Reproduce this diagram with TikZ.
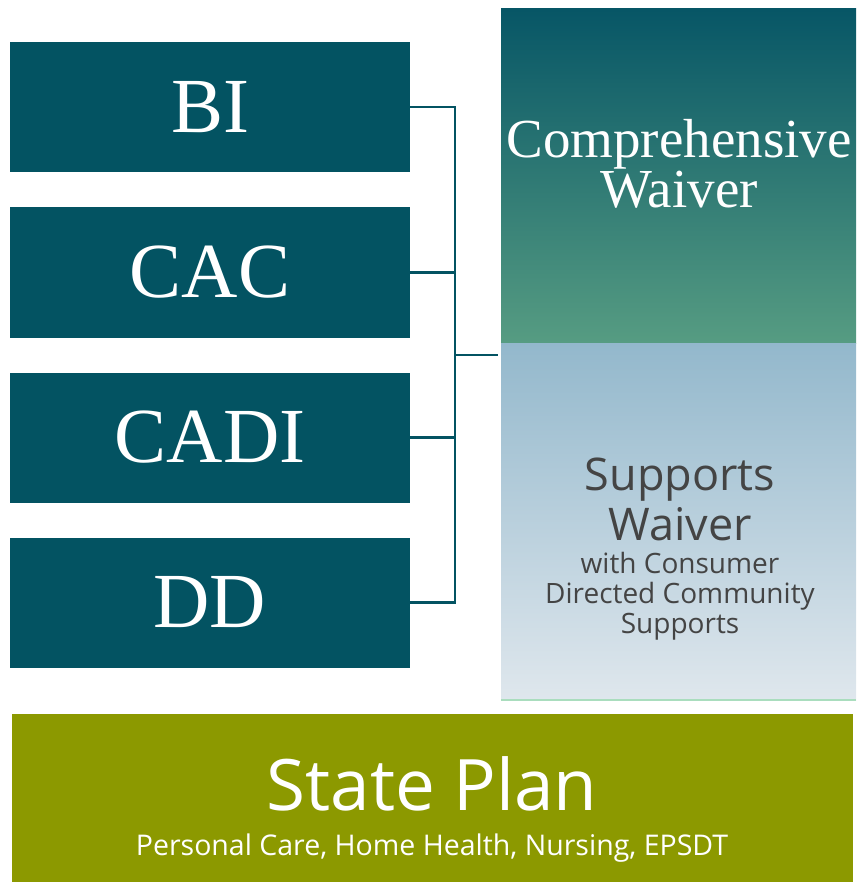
\documentclass[tikz,border=0pt]{standalone}
\usepackage{fontspec}
\setmainfont{Liberation Serif}
\newfontfamily\thinsans{Open Sans}
\definecolor{teal}{RGB}{3,83,98}
\definecolor{comptop}{RGB}{7,86,102}
\definecolor{compbot}{RGB}{86,156,130}
\definecolor{suptop}{RGB}{147,184,204}
\definecolor{supbot}{RGB}{223,231,237}
\definecolor{olive}{RGB}{140,153,0}
\definecolor{suptext}{RGB}{68,68,68}
\definecolor{edgegreen}{RGB}{170,221,190}
\tikzset{
  progbox/.style={fill=teal, draw=none, minimum width=400pt, minimum height=130pt, inner sep=0pt,
    text=white, font=\fontsize{78}{80}\selectfont},
  conn/.style={draw=teal, line width=2.6pt},
  lbl/.style={inner sep=0pt, anchor=base, align=center}
}
\begin{document}
\begin{tikzpicture}[x=1pt,y=-1pt]
\useasboundingbox (0,0) rectangle (856,882);
\fill[white] (0,0) rectangle (856,882);
% left program boxes
\node[progbox] (bi)   at (210,107) {BI};
\node[progbox] (cac)  at (210,272.5) {CAC};
\node[progbox] (cadi) at (210,437.5) {CADI};
\node[progbox] (dd)   at (210,602.5) {DD};
% waiver boxes
\node[minimum width=355pt, minimum height=334pt, inner sep=0pt, top color=comptop, bottom color=compbot, draw=none] (comp) at (678.5,176) {};
\node[minimum width=355pt, minimum height=357pt, inner sep=0pt, top color=suptop, bottom color=supbot, draw=none] (sup) at (678.5,521.5) {};
\draw[edgegreen, line width=1.5pt] (sup.south west) -- (sup.south east);
\node[lbl, text=white, font=\fontsize{55}{50}\selectfont] (comptext) at (679,208) {Comprehensive\\Waiver};
\node[lbl, text=suptext, font=\thinsans\fontsize{45}{50}\selectfont] (suptitle) at (680,540) {Supports\\Waiver};
\node[lbl, text=suptext, font=\thinsans\fontsize{28}{30}\selectfont] (supsub) at (680,633) {with Consumer\\Directed Community\\Supports};
% state plan
\node[fill=olive, minimum width=841pt, minimum height=168pt, inner sep=0pt, draw=none] (state) at (432.5,798) {};
\node[lbl, text=white, font=\thinsans\fontsize{71}{80}\selectfont] (statetitle) at (432,810) {State Plan};
\node[lbl, text=white, font=\thinsans\fontsize{28.5}{30}\selectfont] (statesub) at (432,855) {Personal Care, Home Health, Nursing, EPSDT};
% connectors
\coordinate (j) at (455,355);
\draw[conn] (bi.east) -- (bi.east -| j) -- (dd.east -| j) -- (dd.east);
\draw[conn] (cac.east) -- (cac.east -| j);
\draw[conn] (cadi.east) -- (cadi.east -| j);
\draw[conn] (j) -- ([xshift=-3pt]sup.west |- j);
\end{tikzpicture}
\end{document}
